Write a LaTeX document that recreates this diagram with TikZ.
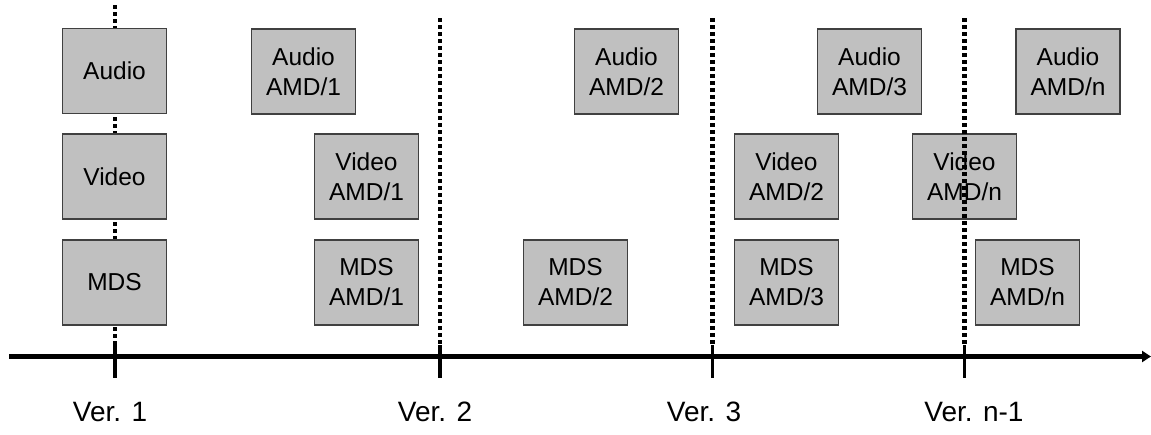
\documentclass[tikz,border=0pt]{standalone}
\usepackage{fontspec}
\setmainfont{Liberation Sans}
\usetikzlibrary{arrows.meta}
\definecolor{boxfill}{HTML}{C0C0C0}
\definecolor{boxline}{HTML}{404040}
\begin{document}
\begin{tikzpicture}[x=1pt,y=-1pt,
  unit/.style={draw=boxline,line width=1.2pt,fill=boxfill,minimum width=104pt,
    minimum height=85pt,inner sep=0pt,align=center,
    font=\fontsize{24.5}{30}\selectfont},
  verline/.style={line width=4.5pt,dash pattern=on 4pt off 3pt},
  tick/.style={line width=3.5pt},
  axis/.style={line width=4.5pt,-{Triangle[length=9pt,width=11pt]}},
  verlabel/.style={font=\fontsize{28}{32}\selectfont,inner sep=0pt}]
\useasboundingbox (0,0) rectangle (1151,434);

% timeline ticks
\coordinate (t1) at (115,345);
\coordinate (t2) at (440,345);
\coordinate (t3) at (712.5,345);
\coordinate (t4) at (964.5,345);
\coordinate (b1) at (115,378);
\coordinate (b2) at (440,378);
\coordinate (b3) at (712.5,378);
\coordinate (b4) at (964.5,378);
\coordinate (top1) at (115,5);
\coordinate (top2) at (440,18);
\coordinate (top3) at (712.5,18);
\coordinate (top4) at (964.5,18);

% version 1 dotted guide, behind its boxes
\draw[verline] (top1) -- (t1);

% first version
\node[unit] (a0) at (114.5,71) {Audio};
\node[unit] (v0) at (114.5,176.5) {Video};
\node[unit] (m0) at (114.5,282.5) {MDS};

% amendments
\node[unit] (a1) at (303.5,71.5) {Audio\\AMD/1};
\node[unit] (v1) at (366.5,176.5) {Video\\AMD/1};
\node[unit] (m1) at (366.5,282.5) {MDS\\AMD/1};
\node[unit] (m2) at (575.5,282.5) {MDS\\AMD/2};
\node[unit] (a2) at (626.5,71.5) {Audio\\AMD/2};
\node[unit] (v2) at (786.5,176.5) {Video\\AMD/2};
\node[unit] (m3) at (786.5,282.5) {MDS\\AMD/3};
\node[unit] (a3) at (869.5,71.5) {Audio\\AMD/3};
\node[unit] (vn) at (964.5,176.5) {Video\\AMD/n};
\node[unit] (mn) at (1027.5,282.5) {MDS\\AMD/n};
\node[unit] (an) at (1068,71.5) {Audio\\AMD/n};

% version dotted guides
\draw[verline] (top2) -- (t2);
\draw[verline] (top3) -- (t3);
\draw[verline] (top4) -- (t4);

% time axis
\coordinate (axs) at (9,356.5);
\coordinate (axe) at (1151,356.5);
\draw[axis] (axs) -- (axe);
\foreach \i in {1,...,4} \draw[tick] (t\i) -- (b\i);

% version labels
\node[verlabel] (l1) at (110,412) {Ver. 1};
\node[verlabel] (l2) at (435,412) {Ver. 2};
\node[verlabel] (l3) at (704,412) {Ver. 3};
\node[verlabel] (l4) at (974,412) {Ver. n-1};
\end{tikzpicture}
\end{document}
